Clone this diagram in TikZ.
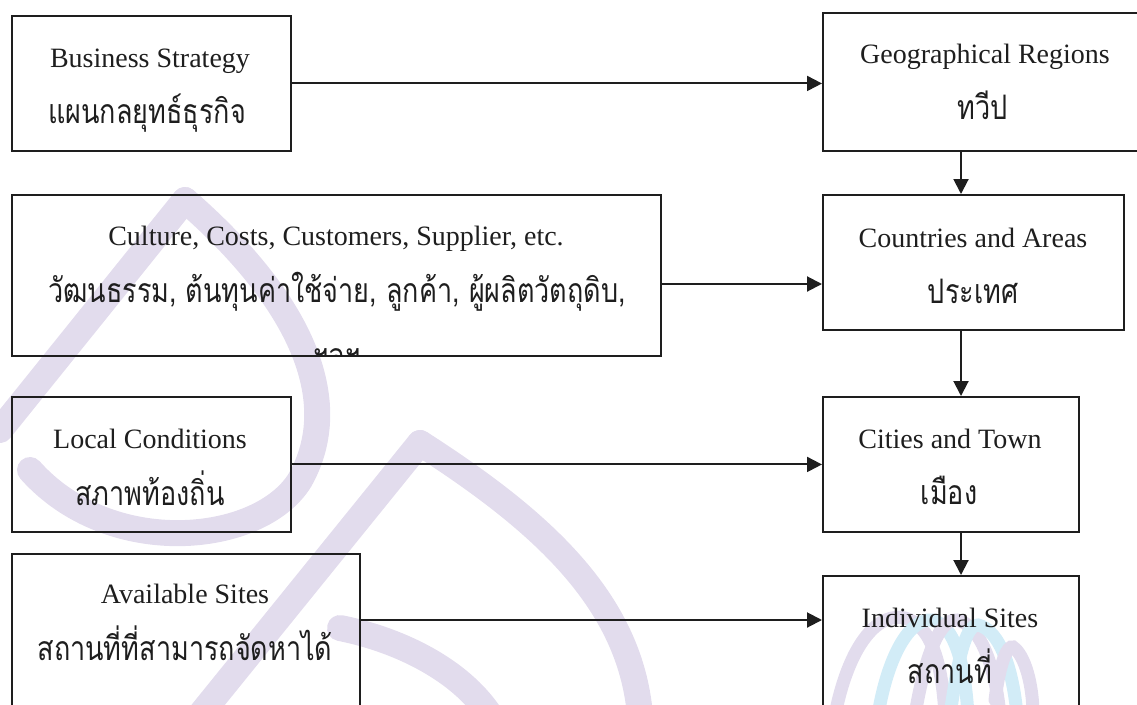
\documentclass[tikz,border=0pt]{standalone}
\usepackage{fontspec}
\usepackage{graphicx}
\setmainfont{Liberation Serif}
\newfontfamily\thaifont[Script=Thai]{Loma}
\usetikzlibrary{arrows.meta}
\definecolor{wmlav}{RGB}{226,220,237}
\definecolor{wmblue}{RGB}{210,236,247}
\definecolor{ink}{RGB}{30,30,30}
\newcommand\thtxt[1]{{\thaifont\fontsize{27}{30}\selectfont\scalebox{1}[1.25]{#1}}}
\begin{document}
\begin{tikzpicture}[x=1pt,y=-1pt,
  box/.style={draw=ink, line width=1.9pt, inner sep=0pt, anchor=north west},
  lat/.style={font=\fontsize{28}{30}\selectfont, text=ink, anchor=base, inner sep=0pt},
  tha/.style={text=ink, anchor=base, inner sep=0pt},
  arr/.style={draw=ink, line width=2pt, -{Triangle[length=15pt,width=15pt]}},
  wm/.style={line width=26pt, line cap=round, draw=wmlav},
  wmthin/.style={line width=13pt, line cap=round},
]
\useasboundingbox (0,0) rectangle (1137,704);
% watermark
\draw[wm] (185,200) -- (0,430);
\draw[wm] (185,200) .. controls (300,300) and (345,400) .. (300,480)
  .. controls (260,545) and (110,560) .. (30,470);
\draw[wm] (420,443) -- (200,715);
\draw[wm] (420,443) .. controls (540,520) and (630,600) .. (640,715);
\draw[wm] (340,628) .. controls (400,640) and (460,670) .. (490,715);
\draw[wmthin, draw=wmlav] (835,715) .. controls (850,640) and (880,612) .. (905,618) .. controls (930,625) and (942,660) .. (945,715);
\draw[wmthin, draw=wmblue] (878,715) .. controls (888,655) and (910,618) .. (932,620) .. controls (955,625) and (965,665) .. (968,715);
\draw[wmthin, draw=wmlav] (915,715) .. controls (925,655) and (940,618) .. (957,620) .. controls (980,625) and (995,665) .. (1000,715);
\draw[wmthin, draw=wmblue] (950,715) .. controls (958,660) and (965,625) .. (978,625) .. controls (1000,630) and (1013,670) .. (1017,715);
\draw[wmthin, draw=wmlav] (995,700) .. controls (1000,660) and (1008,645) .. (1013,647) .. controls (1025,655) and (1033,685) .. (1033,715);
% boxes
\node[box, minimum width=279pt, minimum height=135pt] (bs) at (11,15) {};
\node[box, minimum width=330pt, minimum height=138pt] (geo) at (822,12) {};
\node[box, minimum width=301pt, minimum height=135pt] (cou) at (822,194) {};
\node[box, minimum width=256pt, minimum height=135pt] (cit) at (822,396) {};
\node[box, minimum width=256pt, minimum height=150pt] (ind) at (822,575) {};
\node[box, minimum width=649pt, minimum height=161pt] (cul) at (11,194) {};
\node[box, minimum width=279pt, minimum height=135pt] (loc) at (11,396) {};
\node[box, minimum width=348pt, minimum height=170pt] (ava) at (11,553) {};
\coordinate (vx) at (961,0);
\coordinate (ya) at (0,284);
\coordinate (yb) at (0,620);
% connectors
\draw[arr] (bs.east) -- (bs.east -| geo.west);
\draw[arr] (cul.east |- ya) -- (cou.west |- ya);
\draw[arr] (loc.east) -- (loc.east -| cit.west);
\draw[arr] (ava.east |- yb) -- (ind.west |- yb);
\draw[arr] (geo.south -| vx) -- (cou.north -| vx);
\draw[arr] (cou.south -| vx) -- (cit.north -| vx);
\draw[arr] (cit.south -| vx) -- (ind.north -| vx);
% texts
\node[lat] (t1) at (150,67) {Business Strategy};
\node[tha] (t2) at (147,123) {\thtxt{แผนกลยุทธ์ธุรกิจ}};
\node[lat] (t3) at (985,63) {Geographical Regions};
\node[tha] (t4) at (983,119) {\thtxt{ทวีป}};
\node[lat] (t5) at (973,247) {Countries and Areas};
\node[tha] (t6) at (973,303) {\thtxt{ประเทศ}};
\node[lat] (t7) at (336,245) {Culture, Costs, Customers, Supplier, etc.};
\node[tha] (t8) at (337,302) {\thtxt{วัฒนธรรม, ต้นทุนค่าใช้จ่าย, ลูกค้า, ผู้ผลิตวัตถุดิบ,}};
\begin{scope}
\clip (cul.north west) rectangle ([yshift=1pt]cul.south east);
\node[tha] (t9) at (337,367) {\thtxt{ฯลฯ}};
\end{scope}
\node[lat] (t10) at (150,448) {Local Conditions};
\node[tha] (t11) at (150,505) {\thtxt{สภาพท้องถิ่น}};
\node[lat] (t12) at (950,448) {Cities and Town};
\node[tha] (t13) at (949,504) {\thtxt{เมือง}};
\node[lat] (t14) at (185,603) {Available Sites};
\node[tha] (t15) at (185,660) {\thtxt{สถานที่ที่สามารถจัดหาได้}};
\node[lat] (t16) at (950,627) {Individual Sites};
\node[tha] (t17) at (950,683) {\thtxt{สถานที่}};
\end{tikzpicture}
\end{document}
